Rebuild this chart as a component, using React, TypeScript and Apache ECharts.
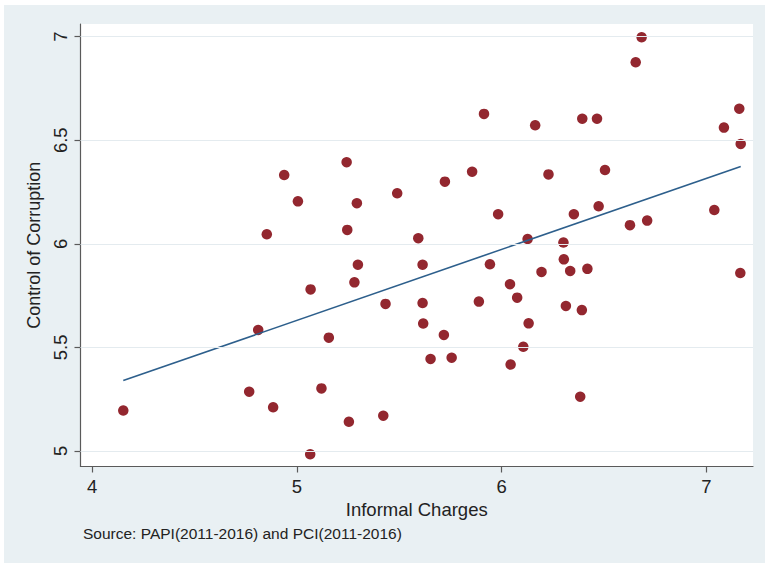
import React, { useEffect, useRef } from "react";
import * as echarts from "echarts";

// Informal Charges (x) and Control of Corruption (y)
const informalCharges = [
  4.152, 4.767, 4.884, 4.811, 4.853, 4.938, 5.005, 5.067, 5.065, 5.12,
  5.156, 5.243, 5.246, 5.254, 5.281, 5.293, 5.298, 5.433, 5.422, 5.49,
  5.593, 5.614, 5.614, 5.617, 5.653, 5.723, 5.718, 5.756, 5.856, 5.889,
  5.914, 5.943, 5.983, 6.041, 6.044, 6.076, 6.106, 6.127, 6.132, 6.164,
  6.195, 6.229, 6.302, 6.304, 6.314, 6.335, 6.353, 6.384, 6.392, 6.394,
  6.419, 6.466, 6.474, 6.505, 6.627, 6.655, 6.684, 6.711, 7.039, 7.086,
  7.161, 7.168, 7.166,
];
const controlOfCorruption = [
  5.195, 5.286, 5.211, 5.584, 6.046, 6.332, 6.205, 5.78, 4.984, 5.302,
  5.547, 6.394, 6.067, 5.141, 5.814, 6.196, 5.899, 5.71, 5.17, 6.244,
  6.027, 5.899, 5.714, 5.615, 5.444, 6.3, 5.56, 5.45, 6.348, 5.721,
  6.627, 5.901, 6.143, 5.805, 5.417, 5.74, 5.503, 6.023, 5.616, 6.572,
  5.864, 6.335, 6.006, 5.925, 5.7, 5.869, 6.143, 5.262, 5.68, 6.604,
  5.879, 6.604, 6.181, 6.356, 6.09, 6.876, 6.997, 6.112, 6.163, 6.561,
  6.652, 6.482, 5.859,
];
// Fitted values (linear fit) at the extreme x values
const fitX = [4.152, 7.168];
const fitY = [5.34, 6.373];

const xTicks = [4, 5, 6, 7];
const yTicks = [5, 5.5, 6, 6.5, 7];
const xRange = [3.943, 7.228];
const yRange = [4.925, 7.061];

const xTitle = "Informal Charges";
const yTitle = "Control of Corruption";
const sourceNote = "Source: PAPI(2011-2016) and PCI(2011-2016)";

const FONT = "'Liberation Sans', Arial, Helvetica, sans-serif";
const TEXT = "#222222";
const AXIS = "#5a5a5a";

export default function App() {
  const ref = useRef<HTMLDivElement>(null);

  useEffect(() => {
    if (!ref.current) return;
    const chart = echarts.init(ref.current, undefined, { renderer: "svg" });
    const points = informalCharges.map((x, i) => [x, controlOfCorruption[i]]);
    const fit = fitX.map((x, i) => [x, fitY[i]]);

    chart.setOption({
      animation: false,
      backgroundColor: "transparent",
      textStyle: { fontFamily: FONT },
      grid: {
        left: 80.5,
        top: 24,
        width: 672.5,
        height: 442.5,
        show: true,
        backgroundColor: "#ffffff",
        borderWidth: 0,
        containLabel: false,
      },
      xAxis: {
        type: "value",
        min: xRange[0],
        max: xRange[1],
        name: xTitle,
        nameLocation: "middle",
        nameGap: 33,
        nameTextStyle: { fontSize: 18.5, color: TEXT, fontFamily: FONT },
        axisLine: { show: true, onZero: false, lineStyle: { color: AXIS, width: 1.2 } },
        axisTick: { show: true, length: 6, customValues: xTicks, lineStyle: { color: AXIS, width: 1.2 } },
        axisLabel: {
          customValues: xTicks,
          margin: 10,
          fontSize: 18.5,
          color: TEXT,
          fontFamily: FONT,
          formatter: (v: number) => String(v),
        },
        splitLine: { show: false },
      },
      yAxis: {
        type: "value",
        min: yRange[0],
        max: yRange[1],
        name: yTitle,
        nameLocation: "middle",
        nameRotate: 90,
        nameGap: 34,
        nameTextStyle: { fontSize: 18, color: TEXT, fontFamily: FONT },
        axisLine: { show: true, onZero: false, lineStyle: { color: AXIS, width: 1.2 } },
        axisTick: { show: true, length: 6, customValues: yTicks, lineStyle: { color: AXIS, width: 1.2 } },
        axisLabel: {
          customValues: yTicks,
          rotate: 90,
          margin: 11,
          fontSize: 18.5,
          color: TEXT,
          fontFamily: FONT,
          formatter: (v: number) => String(v),
        },
        splitLine: { show: false },
      },
      graphic: {
        elements: [
          {
            type: "text",
            left: 83,
            top: 525.5,
            style: {
              text: sourceNote,
              fontSize: 15.5,
              fill: TEXT,
              fontFamily: FONT,
            },
          },
        ],
      },
      series: [
        {
          type: "line",
          data: [],
          z: 1,
          silent: true,
          markLine: {
            silent: true,
            symbol: "none",
            label: { show: false },
            lineStyle: { color: "#e4ebef", width: 1.2, type: "solid" },
            data: yTicks.map((v) => ({ yAxis: v })),
          },
        },
        {
          type: "scatter",
          data: points,
          symbol: "circle",
          symbolSize: 10.5,
          z: 3,
          itemStyle: { color: "#93272f", opacity: 1 },
        },
        {
          type: "line",
          data: fit,
          showSymbol: false,
          symbol: "none",
          z: 4,
          lineStyle: { color: "#2d5f8c", width: 1.6 },
        },
      ],
    });

    return () => chart.dispose();
  }, []);

  return (
    <div
      style={{
        position: "absolute",
        left: 0,
        top: 0,
        width: 765,
        height: 563,
        background: "#ffffff",
      }}
    >
      <div
        style={{
          position: "absolute",
          left: 4,
          top: 5,
          width: 761,
          height: 558,
          background: "#e9f0f3",
        }}
      />
      <div
        ref={ref}
        style={{ position: "absolute", left: 0, top: 0, width: 765, height: 563 }}
      />
    </div>
  );
}
